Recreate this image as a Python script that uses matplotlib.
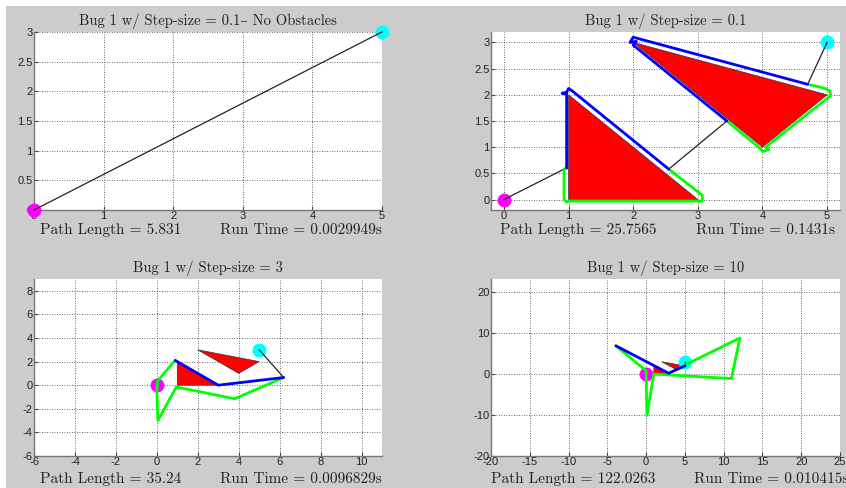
import matplotlib
matplotlib.use("Agg")
from matplotlib import pyplot as plt
from matplotlib.patches import Polygon, Rectangle
from matplotlib.ticker import FormatStrFormatter, MultipleLocator

# shared scene
START = (0, 0)
GOAL = (5, 3)
OBST1 = [(1, 0), (1, 2), (3, 0)]
OBST2 = [(2, 3), (5, 2), (4, 1)]

TITLES = ['Bug 1 w/ Step-size = 0.1\u2013 No Obstacles',
          'Bug 1 w/ Step-size = 0.1',
          'Bug 1 w/ Step-size = 3',
          'Bug 1 w/ Step-size = 10']
PATH_LEN = ['5.831', '25.7565', '35.24', '122.0263']
RUN_TIME = ['0.0029949s', '0.1431s', '0.0096829s', '0.010415s']

# panel 1: straight line, no obstacles
p1_black = [[(0, 0), (5, 3)]]
p1_green = []
p1_blue = []

# panel 2: step 0.1
p2_black = [[(0, 0), (0.93, 0.58)],
            [(2.55, 0.58), (3.45, 1.5)],
            [(4.7, 2.2), (5, 3)]]
p2_green = [[(0.97, 0.6), (0.93, 0.58), (0.93, 0.0), (0.97, -0.05), (1.0, -0.03),
             (3.07, -0.03), (3.07, 0.08), (2.55, 0.58)],
            [(3.45, 1.5), (3.97, 0.97), (4.0, 0.92), (4.1, 0.95), (4.05, 1.0),
             (5.05, 1.98), (5.05, 2.07), (4.95, 2.13), (4.7, 2.2)]]
p2_blue = [[(2.55, 0.58), (1.05, 2.08), (1.0, 2.12), (0.97, 2.05), (0.9, 2.03),
            (0.97, 2.02), (0.97, 0.6)],
           [(4.7, 2.2), (2.0, 3.1), (1.95, 3.0), (2.05, 3.02), (2.0, 2.95), (3.45, 1.5)]]

# panel 3: step 3
p3_black = [[(6.2, 0.65), (5, 3)]]
p3_green = [[(0.9, 2.1), (0.05, 0.4), (0.0, -0.3), (0.05, -3.0), (0.95, -0.15),
             (3.8, -1.15), (6.2, 0.65)]]
p3_blue = [[(0.9, 2.1), (3.0, 0.0), (6.2, 0.65)]]

# panel 4: step 10
p4_black = [[(5, 2), (5, 3)]]
p4_green = [[(-3.9, 6.9), (0.0, 0.8), (0.1, -10.1), (1.0, 0.0), (11.0, -1.1),
             (12.1, 8.8), (5.0, 2.2)]]
p4_blue = [[(-3.9, 6.9), (2.9, 0.2), (5.0, 2.0)]]

BLACKS = [p1_black, p2_black, p3_black, p4_black]
GREENS = [p1_green, p2_green, p3_green, p4_green]
BLUES = [p1_blue, p2_blue, p3_blue, p4_blue]
HAS_OBST = [False, True, True, True]

XLIMS = [(0, 5), (-0.2, 5.2), (-6, 11), (-20, 25)]
YLIMS = [(0, 3), (-0.2, 3.2), (-6, 9), (-20, 23.2)]
XSTEP = [1, 1, 2, 5]
YSTEP = [0.5, 0.5, 2, 10]

BOXES = [[0.0402, 0.5697, 0.4113, 0.3648],
         [0.5804, 0.5697, 0.4125, 0.3648],
         [0.0402, 0.0656, 0.4113, 0.3627],
         [0.5804, 0.0656, 0.4125, 0.3627]]
RT_X = [1.0, 0.985, 1.0, 1.025]
PL_X = [0.017, 0.025, 0.017, 0.0]
TXT_Y = [-0.115, -0.115, -0.128, -0.128]

GREY = '#cccccc'
SERIF = ['cmr10', 'DejaVu Serif']
plt.rcParams['font.family'] = ['Liberation Sans', 'DejaVu Sans']
plt.rcParams['axes.formatter.use_mathtext'] = True

fig = plt.figure(figsize=(8.46, 4.88), dpi=100, facecolor='white')
fig.patches.append(Rectangle((6 / 846, 0), 1, 1 - 6 / 488, transform=fig.transFigure,
                             facecolor=GREY, edgecolor='none', zorder=-10))

for k in range(4):
    ax = fig.add_axes(BOXES[k])
    ax.set_facecolor('white')
    ax.set_xlim(XLIMS[k])
    ax.set_ylim(YLIMS[k])
    ax.xaxis.set_major_locator(MultipleLocator(XSTEP[k]))
    ax.yaxis.set_major_locator(MultipleLocator(YSTEP[k]))
    ax.xaxis.set_major_formatter(FormatStrFormatter('%g'))
    ax.yaxis.set_major_formatter(FormatStrFormatter('%g'))
    ax.grid(True, color='#333333', linestyle=(0, (1, 2)), linewidth=0.6)
    ax.set_axisbelow(True)
    ax.tick_params(direction='in', length=3, labelsize=8, pad=1,
                   colors='#444444', labelcolor='#222222')
    for s in ['top', 'right']:
        ax.spines[s].set_visible(False)
    for s in ['left', 'bottom']:
        ax.spines[s].set_color('#777777')
        ax.spines[s].set_linewidth(1.0)

    if HAS_OBST[k]:
        for ob in [OBST1, OBST2]:
            ax.add_patch(Polygon(ob, closed=True, facecolor='#ff0000',
                                 edgecolor='#333333', linewidth=0.5, zorder=2))

    ax.plot(*START, 'o', color='#ff00ff', markersize=9, zorder=3, clip_on=False)
    ax.plot(*GOAL, 'o', color='#00ffff', markersize=9, zorder=3, clip_on=False)

    for seg in BLACKS[k]:
        xs, ys = zip(*seg)
        ax.plot(xs, ys, color='#222222', linewidth=0.9, zorder=4, clip_on=False)
    for seg in GREENS[k]:
        xs, ys = zip(*seg)
        ax.plot(xs, ys, color='#00ff00', linewidth=2.0, zorder=5,
                solid_joinstyle='round', solid_capstyle='round')
    for seg in BLUES[k]:
        xs, ys = zip(*seg)
        ax.plot(xs, ys, color='#0000ff', linewidth=2.0, zorder=5,
                solid_joinstyle='round', solid_capstyle='round')

    ax.set_title(TITLES[k], family=SERIF, fontsize=10.5, color='#222222', pad=5)
    ax.text(PL_X[k], TXT_Y[k], 'Path Length = ' + PATH_LEN[k], transform=ax.transAxes,
            ha='left', va='center', family=SERIF, fontsize=11, color='#222222')
    ax.text(RT_X[k], TXT_Y[k], 'Run Time = ' + RUN_TIME[k], transform=ax.transAxes,
            ha='right', va='center', family=SERIF, fontsize=11, color='#222222')

plt.savefig('out.png', dpi=100, facecolor=fig.get_facecolor())
